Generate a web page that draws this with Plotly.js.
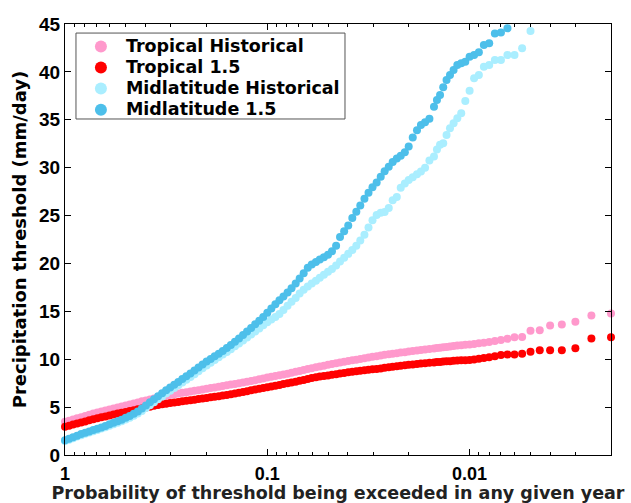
<!DOCTYPE html>
<html>
<head>
<meta charset="utf-8">
<script src="https://cdn.plot.ly/plotly-3.0.1.min.js"></script>
<style>html,body{margin:0;padding:0;background:#fff;}#chart{width:631px;height:503px;}</style>
</head>
<body>
<div id="chart"></div>
<script>
// Exceedance probabilities of the dense part of the curves
const probGrid = [1, 0.9550, 0.9120, 0.8710, 0.8318, 0.7943, 0.7586, 0.7244, 0.6918, 0.6607,
  0.6310, 0.6026, 0.5754, 0.5495, 0.5248, 0.5012, 0.4786, 0.4571, 0.4365, 0.4169,
  0.3981, 0.3802, 0.3631, 0.3467, 0.3311, 0.3162, 0.3020, 0.2884, 0.2754, 0.2630,
  0.2512, 0.2399, 0.2291, 0.2188, 0.2089, 0.1995, 0.1905, 0.1820, 0.1738, 0.1660,
  0.1585, 0.1514, 0.1445, 0.1380, 0.1318, 0.1259, 0.1202, 0.1148, 0.1096, 0.1047,
  0.1000, 0.0955, 0.0912, 0.0871, 0.0832, 0.0794, 0.0759, 0.0724, 0.0692, 0.0661,
  0.0631, 0.0603, 0.0575, 0.0550, 0.0525, 0.0501, 0.0479, 0.0457, 0.0437, 0.0417,
  0.0398, 0.0380, 0.0363, 0.0347, 0.0331, 0.0316, 0.0302, 0.0288, 0.0275, 0.0263,
  0.0251, 0.0240, 0.0229, 0.0219, 0.0209, 0.0200, 0.0191, 0.0182, 0.0174, 0.0166,
  0.0158];
// Exceedance probabilities of the sparse tail (rare events)
const probTail = [0.015, 0.0145, 0.014, 0.0135, 0.013, 0.0125, 0.012, 0.0115, 0.011, 0.0105,
  0.01, 0.0095, 0.009, 0.0085, 0.008, 0.0075, 0.007, 0.0065, 0.006, 0.0055,
  0.005, 0.0045, 0.004, 0.0035, 0.003, 0.0025, 0.002];

const tropHistGrid = [3.46, 3.58, 3.71, 3.83, 3.95, 4.07, 4.20, 4.33, 4.44, 4.55,
  4.65, 4.76, 4.86, 4.96, 5.06, 5.17, 5.27, 5.38, 5.49, 5.60,
  5.70, 5.80, 5.90, 6.01, 6.10, 6.18, 6.26, 6.33, 6.41, 6.49,
  6.56, 6.63, 6.70, 6.77, 6.85, 6.92, 6.99, 7.06, 7.13, 7.20,
  7.28, 7.35, 7.42, 7.50, 7.57, 7.64, 7.72, 7.81, 7.90, 7.99,
  8.08, 8.17, 8.25, 8.33, 8.40, 8.49, 8.58, 8.68, 8.78, 8.88,
  8.98, 9.07, 9.17, 9.25, 9.33, 9.41, 9.49, 9.57, 9.65, 9.73,
  9.81, 9.88, 9.95, 10.03, 10.10, 10.17, 10.25, 10.32, 10.39, 10.46,
  10.52, 10.58, 10.63, 10.69, 10.74, 10.80, 10.85, 10.90, 10.96, 11.01,
  11.07];
const tropHistTail = [11.13, 11.17, 11.20, 11.24, 11.28, 11.33, 11.38, 11.42, 11.46, 11.50,
  11.55, 11.60, 11.68, 11.72, 11.80, 11.90, 12.00, 12.13, 12.30, 12.31,
  12.98, 13.03, 13.52, 13.62, 13.92, 14.57, 14.78];

const trop15Grid = [2.94, 3.06, 3.18, 3.29, 3.40, 3.51, 3.62, 3.73, 3.83, 3.93,
  4.03, 4.13, 4.23, 4.32, 4.41, 4.50, 4.59, 4.68, 4.77, 4.86,
  4.95, 5.04, 5.13, 5.22, 5.30, 5.36, 5.42, 5.48, 5.54, 5.60,
  5.66, 5.72, 5.78, 5.84, 5.90, 5.96, 6.02, 6.08, 6.14, 6.20,
  6.27, 6.34, 6.42, 6.50, 6.58, 6.66, 6.76, 6.84, 6.92, 7.00,
  7.08, 7.16, 7.24, 7.32, 7.40, 7.48, 7.56, 7.65, 7.74, 7.84,
  7.94, 8.03, 8.12, 8.19, 8.25, 8.31, 8.38, 8.44, 8.51, 8.57,
  8.64, 8.69, 8.74, 8.79, 8.84, 8.89, 8.94, 8.99, 9.04, 9.10,
  9.16, 9.21, 9.26, 9.31, 9.36, 9.41, 9.46, 9.51, 9.55, 9.59,
  9.63];
const trop15Tail = [9.67, 9.70, 9.72, 9.75, 9.78, 9.80, 9.83, 9.86, 9.88, 9.90,
  9.93, 9.98, 10.04, 10.14, 10.21, 10.32, 10.43, 10.50, 10.50, 10.58,
  10.79, 10.93, 10.93, 10.93, 11.14, 12.17, 12.30];

const midHistGrid = [1.45, 1.60, 1.76, 1.92, 2.07, 2.21, 2.35, 2.49, 2.62, 2.76,
  2.90, 3.05, 3.20, 3.36, 3.52, 3.70, 3.89, 4.10, 4.33, 4.60,
  4.90, 5.20, 5.50, 5.81, 6.12, 6.42, 6.71, 7.00, 7.28, 7.56,
  7.85, 8.14, 8.44, 8.74, 9.05, 9.35, 9.64, 9.92, 10.20, 10.48,
  10.76, 11.05, 11.35, 11.65, 11.96, 12.27, 12.58, 12.90, 13.22, 13.54,
  13.86, 14.15, 14.40, 14.72, 15.15, 15.57, 16.00, 16.40, 16.85, 17.26,
  17.58, 17.90, 18.20, 18.50, 18.82, 19.12, 19.42, 19.78, 20.20, 20.60,
  21.00, 21.40, 21.85, 22.40, 23.00, 23.75, 24.50, 25.05, 25.30, 25.38,
  25.80, 26.60, 26.95, 27.90, 28.35, 28.70, 29.00, 29.30, 29.60, 29.98,
  30.75];
const midHistTail = [31.16, 31.90, 32.38, 32.55, 33.42, 34.12, 34.64, 35.16, 35.68, 36.97,
  38.04, 39.33, 39.68, 40.54, 40.72, 41.24, 41.24, 41.76, 41.76, 42.46,
  44.26];

const mid15Grid = [1.54, 1.70, 1.86, 2.02, 2.18, 2.32, 2.46, 2.60, 2.74, 2.88,
  3.04, 3.20, 3.36, 3.52, 3.69, 3.88, 4.08, 4.30, 4.55, 4.85,
  5.18, 5.50, 5.82, 6.14, 6.45, 6.75, 7.04, 7.33, 7.63, 7.93,
  8.23, 8.52, 8.82, 9.13, 9.45, 9.76, 10.03, 10.30, 10.57, 10.86,
  11.17, 11.48, 11.82, 12.17, 12.53, 12.90, 13.27, 13.64, 14.01, 14.42,
  14.85, 15.29, 15.73, 16.15, 16.56, 16.97, 17.40, 17.90, 18.42, 18.98,
  19.55, 19.90, 20.15, 20.40, 20.65, 20.92, 21.28, 21.85, 22.75, 23.35,
  23.95, 24.75, 25.40, 26.05, 26.75, 27.38, 27.95, 28.45, 29.05, 29.62,
  30.10, 30.60, 30.95, 31.25, 31.60, 32.20, 33.15, 33.90, 34.45, 34.75,
  35.10];
const mid15Tail = [36.37, 37.07, 37.60, 38.40, 39.16, 39.68, 40.20, 40.72, 40.90, 41.06,
  41.59, 41.76, 42.04, 42.80, 42.98, 44.00, 44.10, 44.55];

const seriesNames = ['Tropical Historical', 'Tropical 1.5', 'Midlatitude Historical', 'Midlatitude 1.5'];
const seriesColors = ['#ff99cc', '#ff0000', '#aaeeff', '#4dbfea'];
const seriesGrid = [tropHistGrid, trop15Grid, midHistGrid, mid15Grid];
const seriesTail = [tropHistTail, trop15Tail, midHistTail, mid15Tail];

const xTickVals = [1, 0.1, 0.01];
const xTickText = ['1', '0.1', '0.01'];
const xMinorVals = [0.9,0.8,0.7,0.6,0.5,0.4,0.3,0.2,0.09,0.08,0.07,0.06,0.05,0.04,0.03,0.02,
  0.009,0.008,0.007,0.006,0.005,0.004,0.003,0.002];
const yTickVals = [0, 5, 10, 15, 20, 25, 30, 35, 40, 45];

const TICKFONT = 'Liberation Sans, Arial, Helvetica, sans-serif';
const TITLEFONT = 'DejaVu Sans, Verdana, sans-serif';

const traces = seriesNames.map((name, i) => ({
  type: 'scatter',
  mode: 'markers',
  name: '<span style="font-size:17.5px">' + name + '</span>',
  x: probGrid.concat(probTail.slice(0, seriesTail[i].length)),
  y: seriesGrid[i].concat(seriesTail[i]),
  cliponaxis: false,
  marker: {color: seriesColors[i], size: 8, line: {width: 0}}
}));

const axisCommon = {
  showline: true, linecolor: '#000', linewidth: 1, mirror: 'ticks',
  ticks: 'inside', ticklen: 6, tickwidth: 1, tickcolor: '#000',
  showgrid: false, zeroline: false,
  tickfont: {family: TICKFONT, size: 19, color: '#000', weight: 'bold'}
};

const layout = {
  width: 631, height: 503,
  margin: {l: 65, r: 20, t: 24, b: 48, pad: 0},
  paper_bgcolor: '#fff', plot_bgcolor: '#fff',
  showlegend: true,
  xaxis: Object.assign({}, axisCommon, {
    type: 'log',
    range: [0, Math.log10(0.002)],
    tickmode: 'array', tickvals: xTickVals, ticktext: xTickText,
    ticklabelstandoff: 2,
    tickfont: {family: TICKFONT, size: 18, color: '#000', weight: 'bold'},
    minor: {tickmode: 'array', tickvals: xMinorVals, ticks: 'inside', ticklen: 3, tickcolor: '#000', showgrid: false},
    title: {text: 'Probability of threshold being exceeded in any given year', standoff: 2,
      font: {family: TITLEFONT, size: 17.5, color: '#222', weight: 'bold'}}
  }),
  yaxis: Object.assign({}, axisCommon, {
    range: [0, 45],
    tickmode: 'array', tickvals: yTickVals,
    title: {text: 'Precipitation threshold (mm/day)', standoff: 7,
      font: {family: TITLEFONT, size: 18, color: '#000', weight: 'bold'}}
  }),
  legend: {
    x: 0.02, y: 0.984, xanchor: 'left', yanchor: 'top',
    bgcolor: 'rgba(0,0,0,0)', bordercolor: 'rgba(0,0,0,0)', borderwidth: 0,
    font: {family: TITLEFONT, size: 13.9, color: '#000', weight: 'bold'},
    tracegroupgap: 0, itemsizing: 'constant', itemwidth: 40
  },
  shapes: [{
    type: 'rect', xref: 'paper', yref: 'paper',
    x0: 0.0201, x1: 0.5128, y0: 0.7796, y1: 0.979,
    line: {color: '#555', width: 1}, fillcolor: '#fff', layer: 'above'
  }]
};

Plotly.newPlot('chart', traces, layout, {displayModeBar: false, staticPlot: true});
</script>
</body>
</html>
